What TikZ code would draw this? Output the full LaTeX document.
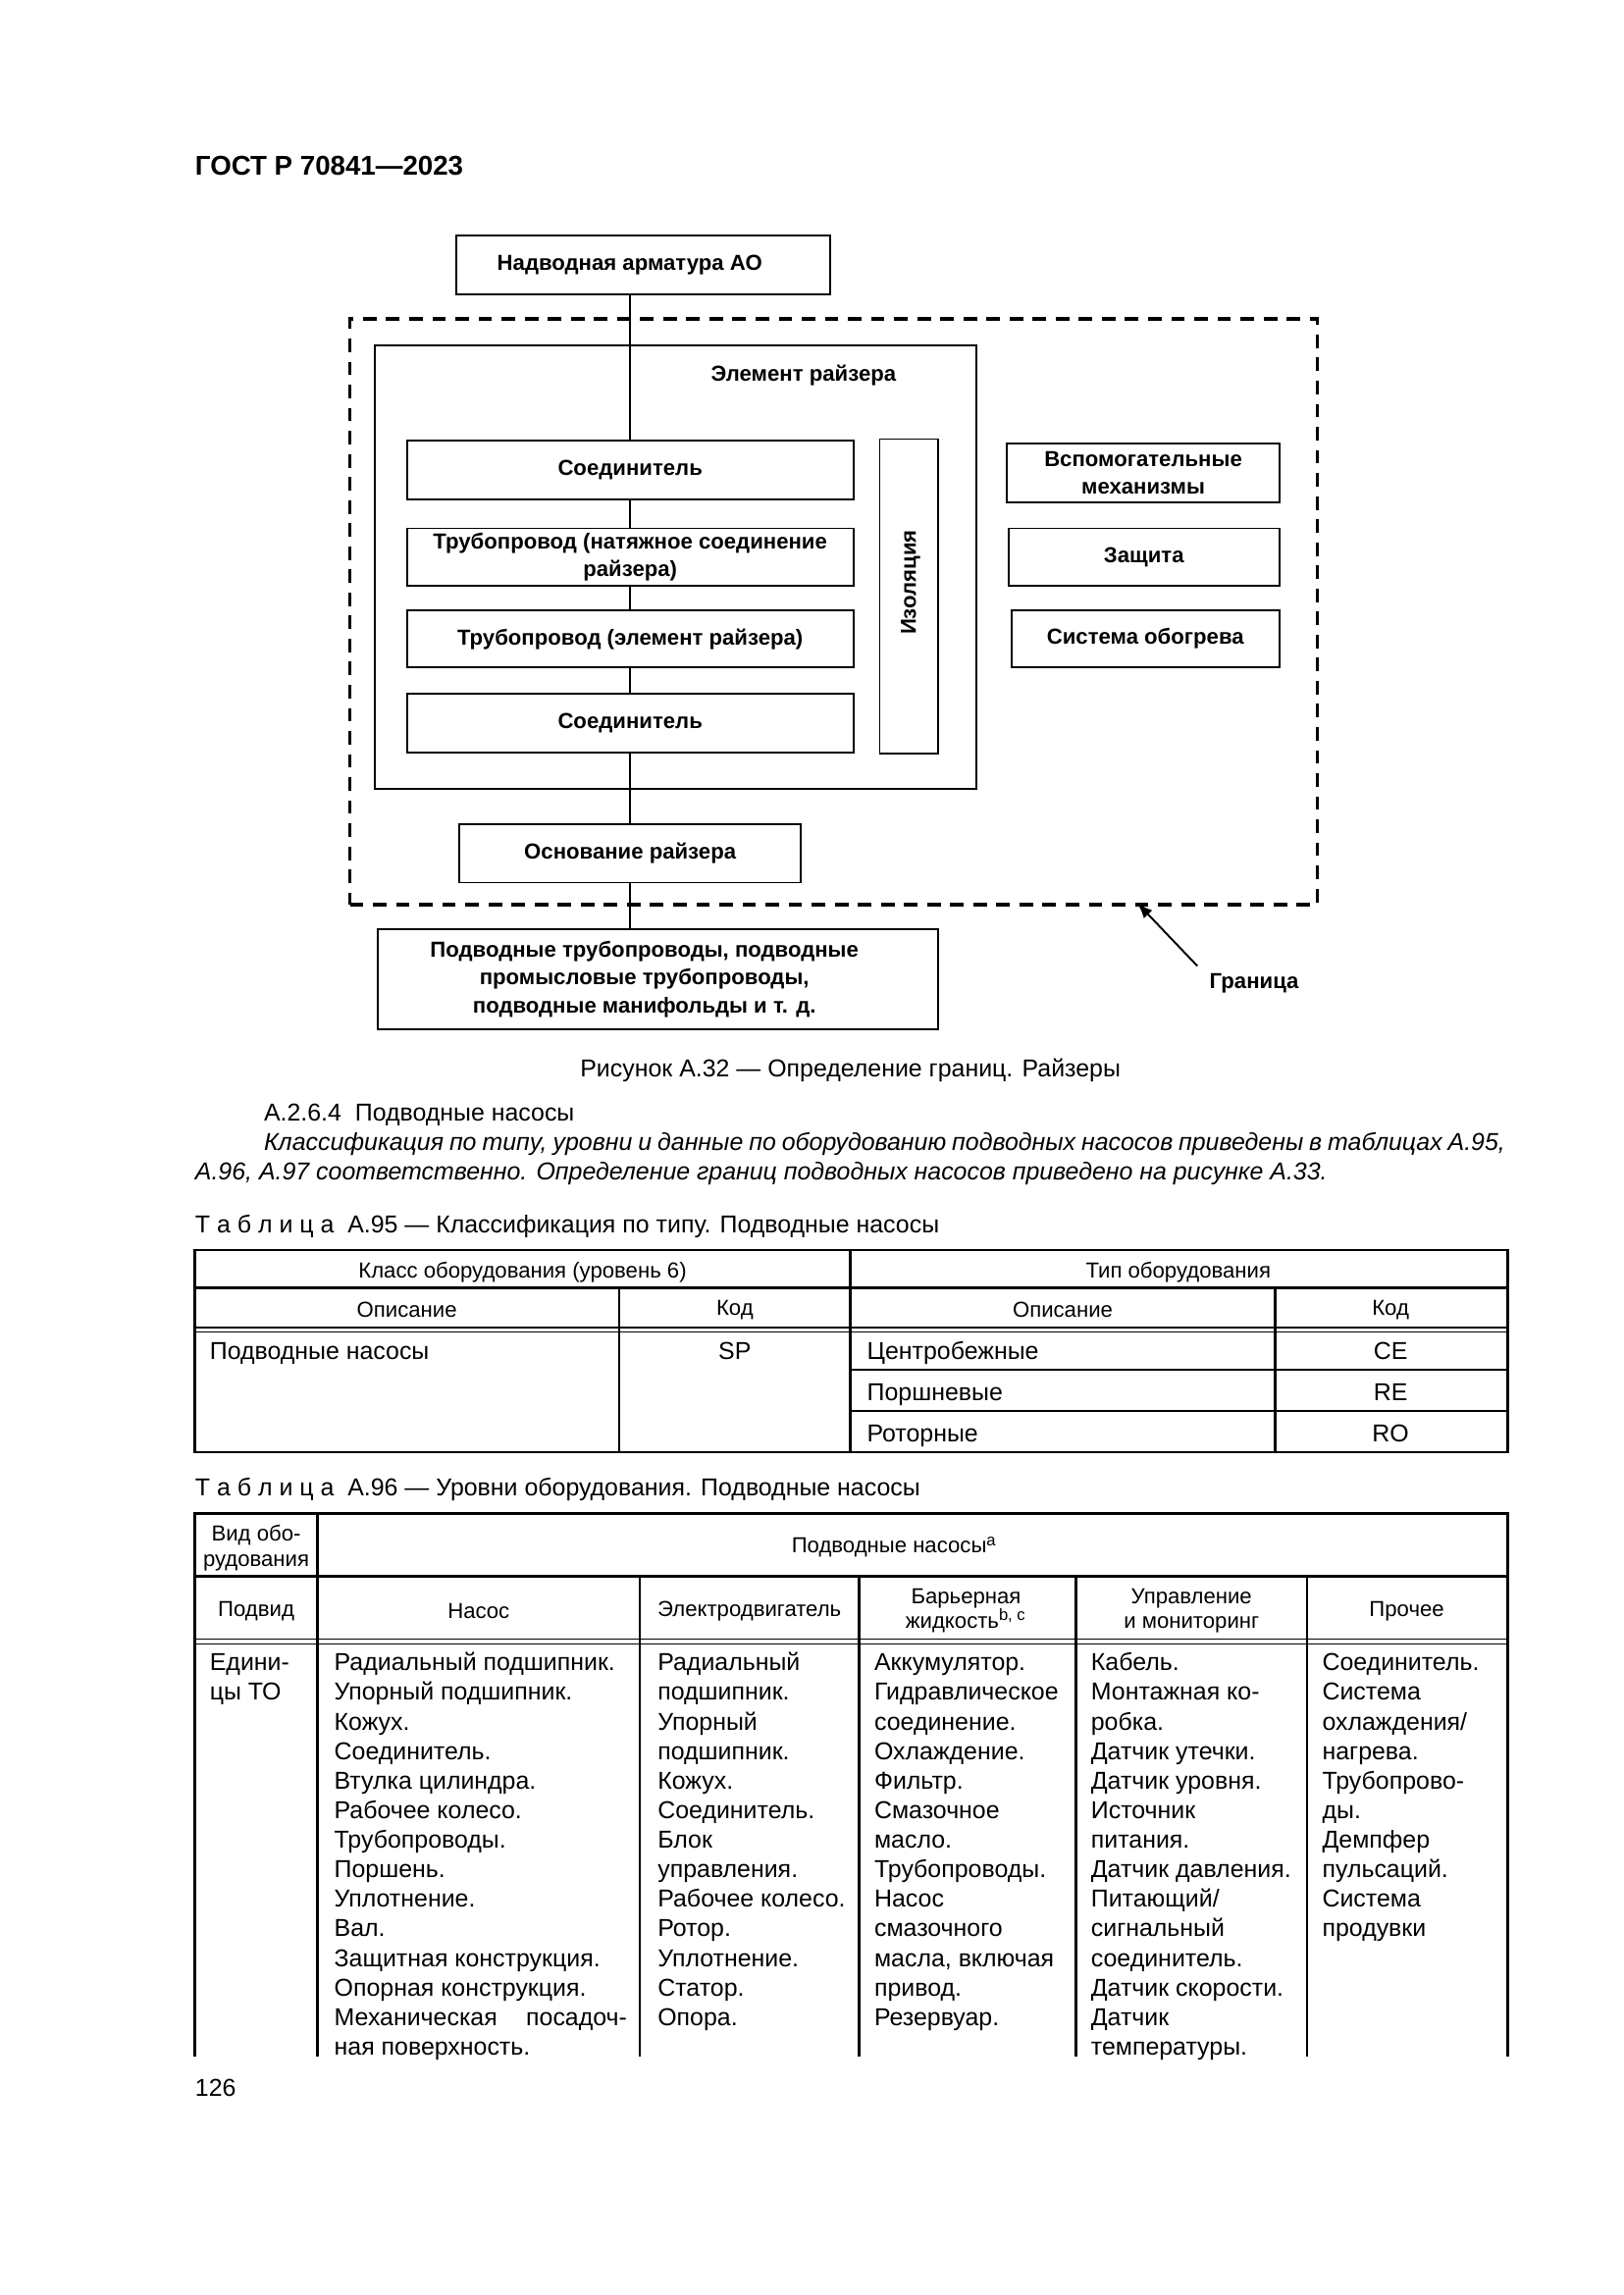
\documentclass[tikz,border=0pt]{standalone}
\usepackage{fontspec}
\setmainfont{Liberation Sans}
\usetikzlibrary{arrows.meta}
\newcommand{\dunit}{0.18937mm}
\newcommand{\dgfont}{\fontsize{8}{10.3}\selectfont\bfseries}
\newcommand{\bodyfont}{\fontsize{9}{10.88}\selectfont}
\newcommand{\headfont}{\fontsize{8}{9.2}\selectfont}
\tikzstyle{blk}=[draw,line width=0.7pt,inner sep=1pt,align=center,font=\dgfont]
\tikzstyle{riserframe}=[draw,line width=0.7pt,inner sep=0pt]
\tikzstyle{boundary}=[draw,line width=1.3pt,dash pattern=on 5pt off 3.5pt,inner sep=0pt]
\tikzstyle{link}=[draw,line width=0.7pt,-]
\tikzstyle{pointer}=[draw,line width=0.7pt,-{Latex[length=2mm,width=1.5mm]}]
\tikzstyle{tabrule}=[line width=0.9pt]
\tikzstyle{thinrule}=[line width=0.5pt]
\tikzstyle{txt}=[font=\bodyfont,inner sep=0pt]
\tikzstyle{head}=[font=\headfont,inner sep=0pt,align=center]
\tikzstyle{cell}=[font=\bodyfont,inner sep=0pt,anchor=north west,align=left]

\begin{document}
\begin{tikzpicture}[x=0.18937mm,y=-0.18937mm]
        \useasboundingbox (0,0) rectangle (210mm,-296.94mm);
        \fill[white] (0,0) rectangle (210mm,-296.94mm);
        \node[anchor=base west,inner sep=0pt,font=\fontsize{10}{12}\selectfont\bfseries] (doc) at (133,119.5) {ГОСТ Р 70841—2023};
        % riser diagram
        \node[boundary,minimum width=661*\dunit,minimum height=400*\dunit] (border) at (569.5,418) {};
        \node[riserframe,minimum width=411*\dunit,minimum height=303*\dunit] (riser) at (461.5,387.5) {};
        \node[font=\dgfont,inner sep=0pt] (risertitle) at (549,256.5) {Элемент райзера};
        \node[blk,minimum width=255*\dunit,minimum height=40*\dunit] (top) at (439.5,181) {\raisebox{-1pt}{\hspace*{-10pt}Надводная арматура АО}};
        \node[blk,minimum width=305*\dunit,minimum height=40*\dunit] (conn1) at (430.5,321) {\raisebox{-1pt}{Соединитель}};
        \node[blk,minimum width=305*\dunit,minimum height=39*\dunit] (pipe1) at (430.5,380.5) {Трубопровод (натяжное соединение\\райзера)};
        \node[blk,minimum width=305*\dunit,minimum height=39*\dunit] (pipe2) at (430.5,436.5) {\raisebox{-1pt}{Трубопровод (элемент райзера)}};
        \node[blk,minimum width=305*\dunit,minimum height=40*\dunit] (conn2) at (430.5,494) {\raisebox{0.5pt}{Соединитель}};
        \node[blk,minimum width=40*\dunit,minimum height=215*\dunit] (iso) at (621,407.5) {};
        \node[font=\dgfont,rotate=90,inner sep=0pt] (isotext) at (622,398) {Изоляция};
        \node[blk,minimum width=186*\dunit,minimum height=40*\dunit] (aux) at (781,323) {Вспомогательные\\механизмы};
        \node[blk,minimum width=185*\dunit,minimum height=39*\dunit] (prot) at (781.5,380.5) {\raisebox{-1pt}{Защита}};
        \node[blk,minimum width=183*\dunit,minimum height=39*\dunit] (heat) at (782.5,436.5) {\raisebox{-1pt}{Система обогрева}};
        \node[blk,minimum width=233*\dunit,minimum height=40*\dunit] (base) at (430.5,583) {\raisebox{-1pt}{Основание райзера}};
        \node[blk,minimum width=383*\dunit,minimum height=68*\dunit] (subsea) at (449.5,669) {\hspace*{-10pt}Подводные трубопроводы, подводные\\\hspace*{-10pt}промысловые трубопроводы,\\\hspace*{-10pt}подводные манифольды и т. д.};
        \draw[link] (top.south -| conn1.north) -- (conn1.north);
        \draw[link] (conn1.south) -- (pipe1.north);
        \draw[link] (pipe1.south) -- (pipe2.north);
        \draw[link] (pipe2.south) -- (conn2.north);
        \draw[link] (conn2.south) -- (base.north);
        \draw[link] (base.south) -- (base.south |- subsea.north);
        \node[font=\dgfont,inner sep=0pt,anchor=west] (granica) at (826,671.5) {Граница};
        \coordinate (tip) at (777,617);
        \coordinate (tail) at (818,660);
        \draw[pointer] (tail) -- (tip);
        \node[txt,anchor=base] (caption) at (581,736) {Рисунок А.32 — Определение границ. Райзеры};
        % text
        \node[txt,anchor=base west] (sect) at (180,766) {А.2.6.4\ \ Подводные насосы};
        \node[txt,anchor=base west] (para1) at (133,786) {\hbox to 169.49mm{\hspace*{8.9mm}\itshape Классификация по типу, уровни и данные по оборудованию подводных насосов приведены в таблицах А.95,}};
        \node[txt,anchor=base west] (para2) at (133,806) {\itshape А.96, А.97 соответственно. Определение границ подводных насосов приведено на рисунке А.33.};
        % table A.95
        \node[txt,anchor=base west] (cap95) at (133,842) {Т а б л и ц а\ \ А.95 — Классификация по типу. Подводные насосы};
        \draw[tabrule] (133,854) rectangle (1030,992);
        \draw[tabrule] (133,880) -- (1030,880);
        \draw[thinrule] (133,907) -- (1030,907);
        \draw[thinrule] (133,910) -- (1030,910);
        \draw[tabrule] (581,936) -- (1030,936);
        \draw[tabrule] (581,964) -- (1030,964);
        \draw[tabrule] (581,854) -- (581,992);
        \draw[tabrule] (423,880) -- (423,992);
        \draw[tabrule] (871,880) -- (871,992);
        \node[head] (h951) at (357,869) {Класс оборудования (уровень 6)};
        \node[head] (h952) at (805,869) {Тип оборудования};
        \node[head] (h953) at (278,895) {Описание};
        \node[head] (h954) at (502,895) {Код};
        \node[head] (h955) at (726,895) {Описание};
        \node[head] (h956) at (950,895) {Код};
        \node[txt,anchor=base west] (pumps) at (143,929) {Подводные насосы};
        \node[txt,anchor=base] (sp) at (502,929) {SP};
        \node[txt,anchor=base west] (centr) at (592,929) {Центробежные};
        \node[txt,anchor=base] (ce) at (950,929) {CE};
        \node[txt,anchor=base west] (recip) at (592,957) {Поршневые};
        \node[txt,anchor=base] (re) at (950,957) {RE};
        \node[txt,anchor=base west] (rotary) at (592,985) {Роторные};
        \node[txt,anchor=base] (ro) at (950,985) {RO};
        % table A.96
        \node[txt,anchor=base west] (cap96) at (133,1022) {Т а б л и ц а\ \ А.96 — Уровни оборудования. Подводные насосы};
        \draw[tabrule] (133,1405) -- (133,1034) -- (1030,1034) -- (1030,1405);
        \draw[tabrule] (133,1077) -- (1030,1077);
        \draw[thinrule] (133,1120) -- (1030,1120);
        \draw[thinrule] (133,1123) -- (1030,1123);
        \draw[tabrule] (217,1034) -- (217,1405);
        \foreach \cx in {437,587,735,893}
          \draw[tabrule] (\cx,1077) -- (\cx,1405);
        \node[head] (h961) at (175,1057.5) {Вид обо-\\рудования};
        \node[head] (h962) at (611,1057) {Подводные насосы\textsuperscript{a}};
        \node[head] (h963) at (175,1101) {Подвид};
        \node[head] (h964) at (327,1101) {Насос};
        \node[head] (h965) at (512,1101) {Электродвигатель};
        \node[head] (h966) at (660,1100.5) {Барьерная\\жидкость\textsuperscript{b, c}};
        \node[head] (h967) at (814,1100.5) {Управление\\и мониторинг};
        \node[head] (h968) at (961,1101) {Прочее};
        \node[cell] (units) at (143,1127) {\strut Едини-\\цы ТО};
        \node[cell] (pump) at (228,1127) {\strut Радиальный подшипник.\\Упорный подшипник.\\Кожух.\\Соединитель.\\Втулка цилиндра.\\Рабочее колесо.\\Трубопроводы.\\Поршень.\\Уплотнение.\\Вал.\\Защитная конструкция.\\Опорная конструкция.\\\hbox to 37.87mm{Механическая\hfill посадоч-}\\ная поверхность.};
        \node[cell] (motor) at (449,1127) {\strut Радиальный\\подшипник.\\Упорный\\подшипник.\\Кожух.\\Соединитель.\\Блок\\управления.\\Рабочее колесо.\\Ротор.\\Уплотнение.\\Статор.\\Опора.};
        \node[cell] (fluid) at (597,1127) {\strut Аккумулятор.\\Гидравлическое\\соединение.\\Охлаждение.\\Фильтр.\\Смазочное\\масло.\\Трубопроводы.\\Насос\\смазочного\\масла, включая\\привод.\\Резервуар.};
        \node[cell] (control) at (745,1127) {\strut Кабель.\\Монтажная ко-\\робка.\\Датчик утечки.\\Датчик уровня.\\Источник\\питания.\\Датчик давления.\\Питающий/\\сигнальный\\соединитель.\\Датчик скорости.\\Датчик\\температуры.};
        \node[cell] (other) at (903,1127) {\strut Соединитель.\\Система\\охлаждения/\\нагрева.\\Трубопрово-\\ды.\\Демпфер\\пульсаций.\\Система\\продувки};
        \node[txt,anchor=base west] (page) at (133,1432) {126};
      \end{tikzpicture}
\end{document}
